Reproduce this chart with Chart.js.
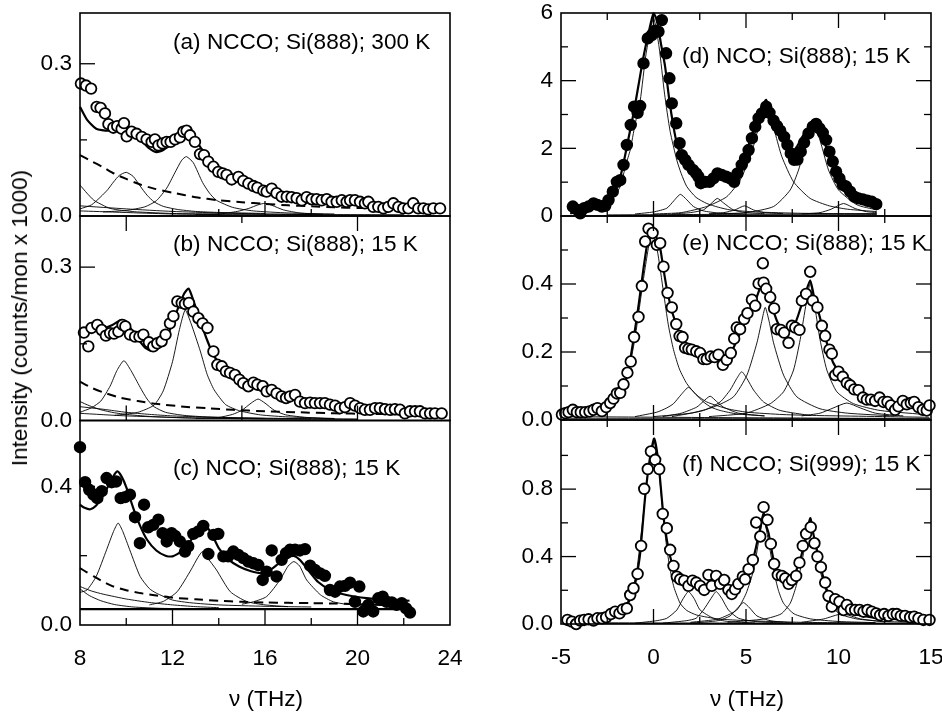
<!DOCTYPE html>
<html>
<head>
<meta charset="utf-8">
<script src="https://cdn.jsdelivr.net/npm/chart.js@4.4.1/dist/chart.umd.min.js"></script>
<style>
  body { margin: 0; background: #fff; }
  #fig { position: relative; width: 942px; height: 712px; overflow: hidden;
         font-family: "Liberation Sans", Arial, Helvetica, sans-serif; color: #000; }
  #fig canvas { position: absolute; left: 0; top: 0; }
  .lbl { position: absolute; font-size: 22.6px; line-height: 22px; white-space: nowrap; }
</style>
</head>
<body>
<div id="fig">
  <canvas id="pa" width="942" height="712"></canvas>
  <canvas id="pb" width="942" height="712"></canvas>
  <canvas id="pc" width="942" height="712"></canvas>
  <canvas id="pd" width="942" height="712"></canvas>
  <canvas id="pe" width="942" height="712"></canvas>
  <canvas id="pf" width="942" height="712"></canvas>

  <div class="lbl" style="left:173px;top:31px">(a) NCCO; Si(888); 300 K</div>
  <div class="lbl" style="left:173px;top:233px">(b) NCCO; Si(888); 15 K</div>
  <div class="lbl" style="left:173px;top:457px">(c) NCO; Si(888); 15 K</div>
  <div class="lbl" style="left:682px;top:45px">(d) NCO; Si(888); 15 K</div>
  <div class="lbl" style="left:682px;top:232px">(e) NCCO; Si(888); 15 K</div>
  <div class="lbl" style="left:682px;top:453px">(f) NCCO; Si(999); 15 K</div>

  <div class="lbl" style="left:266px;top:688px;transform:translateX(-50%)">&nu; (THz)</div>
  <div class="lbl" style="left:747px;top:688px;transform:translateX(-50%)">&nu; (THz)</div>
  <div class="lbl" style="left:20px;top:318px;transform:translate(-50%,-50%) rotate(-90deg)">Intensity (counts/mon x 1000)</div>
</div>

<script>
// ---- panel (a) NCCO, Si(888), 300 K ----
const A_NU = [8.04,8.26,8.48,8.72,8.89,9.08,9.23,9.44,9.61,9.80,9.90,10.02,10.23,10.45,10.67,10.88,11.10,11.24,11.39,11.57,11.75,11.92,12.11,12.32,12.47,12.61,12.76,12.97,13.19,13.36,13.55,13.77,13.98,14.17,14.34,14.56,14.85,15.06,15.28,15.50,15.67,15.93,16.07,16.29,16.50,16.72,16.94,17.15,17.37,17.59,17.80,18.02,18.23,18.45,18.67,18.88,19.10,19.32,19.53,19.68,19.89,20.11,20.32,20.47,20.68,20.90,21.12,21.33,21.55,21.77,21.98,22.20,22.41,22.63,22.85,23.06,23.28,23.57];
const A_INT = [0.261,0.257,0.251,0.215,0.213,0.202,0.181,0.174,0.177,0.172,0.183,0.157,0.166,0.162,0.156,0.151,0.146,0.151,0.139,0.143,0.146,0.146,0.151,0.155,0.166,0.168,0.159,0.146,0.122,0.120,0.107,0.097,0.087,0.084,0.081,0.072,0.077,0.069,0.064,0.059,0.056,0.050,0.048,0.054,0.045,0.038,0.038,0.037,0.035,0.031,0.037,0.033,0.033,0.031,0.033,0.028,0.028,0.031,0.028,0.031,0.031,0.028,0.025,0.028,0.018,0.018,0.015,0.018,0.025,0.018,0.015,0.015,0.025,0.015,0.015,0.013,0.015,0.015];
const A_FIT = [[8,0.215],[8.3,0.19],[8.7,0.172],[9.2,0.168],[9.6,0.172],[9.9,0.175],[10.3,0.165],[10.7,0.147],[11.0,0.133],[11.3,0.126],[11.6,0.130],[12.0,0.145],[12.3,0.162],[12.6,0.172],[12.9,0.160],[13.2,0.136],[13.6,0.111],[14.0,0.093],[14.5,0.078],[15.0,0.068],[15.5,0.060],[16.0,0.053],[16.5,0.046],[17.0,0.040],[18.0,0.032],[19.0,0.027],[20.0,0.024],[21.0,0.021],[22.0,0.019],[23.0,0.017],[23.6,0.016]];
const A_BG = [[8,0.120],[8.5,0.108],[9,0.096],[9.5,0.083],[10,0.073],[10.6,0.062],[11.2,0.054],[12,0.046],[13,0.037],[14,0.031],[15,0.027],[16,0.024],[17,0.021],[18,0.019],[19,0.017],[20,0.016],[21,0.015],[22,0.014],[23,0.013],[23.6,0.013]];
const A_P0 = [[8,0.061],[8.3,0.045],[8.6,0.031],[9,0.021],[9.3,0.015],[9.8,0.011],[10.5,0.008],[12,0.005],[14,0.004],[18,0.003]];
const A_P1 = [[8,0.014],[8.5,0.022],[8.9,0.038],[9.2,0.052],[9.45,0.067],[9.7,0.080],[10.0,0.086],[10.3,0.078],[10.6,0.059],[10.9,0.041],[11.2,0.028],[11.6,0.019],[12.2,0.013],[13,0.009],[14,0.007],[16,0.005]];
const A_P2 = [[9,0.008],[10,0.011],[10.8,0.018],[11.3,0.030],[11.75,0.055],[12.1,0.085],[12.4,0.110],[12.6,0.117],[12.9,0.105],[13.3,0.066],[13.6,0.045],[13.9,0.031],[14.6,0.017],[15.5,0.010],[17,0.006],[19,0.004]];
const A_P3 = [[13,0.003],[14,0.004],[14.8,0.009],[15.3,0.015],[15.7,0.022],[16.0,0.025],[16.3,0.021],[16.8,0.012],[17.5,0.006],[18.5,0.003]];
const A_B1 = [[8,0.020],[10,0.014],[12,0.009],[14,0.006],[16,0.004],[18,0.003],[22,0.002]];
const A_B2 = [[8,0.010],[12,0.004],[16,0.002],[22,0.002]];

// ---- panel (b) NCCO, Si(888), 15 K ----
const B_NU = [8.17,8.36,8.50,8.75,8.94,9.12,9.30,9.47,9.66,9.84,9.96,10.16,10.38,10.57,10.74,10.98,11.17,11.34,11.53,11.70,11.89,12.04,12.21,12.40,12.54,12.71,12.90,13.12,13.30,13.51,13.77,13.94,14.13,14.31,14.49,14.70,14.89,15.06,15.28,15.50,15.67,15.90,16.07,16.29,16.50,16.72,16.91,17.08,17.30,17.51,17.73,17.95,18.16,18.38,18.59,18.81,19.03,19.24,19.46,19.68,19.89,20.11,20.32,20.54,20.76,20.97,21.19,21.41,21.62,21.84,22.05,22.27,22.49,22.70,22.92,23.14,23.35,23.64];
const B_INT = [0.172,0.145,0.181,0.187,0.177,0.166,0.171,0.170,0.174,0.187,0.184,0.168,0.164,0.164,0.168,0.153,0.145,0.151,0.155,0.168,0.190,0.204,0.233,0.230,0.228,0.230,0.213,0.200,0.190,0.181,0.135,0.109,0.106,0.096,0.093,0.089,0.080,0.073,0.067,0.074,0.070,0.067,0.057,0.060,0.053,0.047,0.044,0.047,0.050,0.037,0.034,0.035,0.034,0.034,0.034,0.031,0.029,0.024,0.026,0.034,0.029,0.024,0.021,0.021,0.024,0.024,0.022,0.021,0.022,0.021,0.014,0.018,0.018,0.018,0.014,0.014,0.014,0.014];
const B_FIT = [[8,0.172],[8.5,0.176],[9,0.180],[9.4,0.187],[9.8,0.197],[10.1,0.186],[10.5,0.160],[10.8,0.143],[11.1,0.136],[11.4,0.142],[11.8,0.168],[12.2,0.215],[12.5,0.248],[12.7,0.258],[12.9,0.235],[13.2,0.195],[13.5,0.157],[13.8,0.126],[14.2,0.102],[14.6,0.087],[15.1,0.074],[15.6,0.068],[16.0,0.060],[16.5,0.051],[17,0.044],[18,0.035],[19,0.029],[20,0.025],[21,0.022],[22,0.019],[23,0.017],[23.6,0.016]];
const B_BG = [[8,0.076],[8.5,0.064],[9,0.055],[9.7,0.045],[10.5,0.038],[11.2,0.033],[12.5,0.027],[13.5,0.024],[14.6,0.021],[16,0.018],[17.5,0.016],[19,0.014],[20.5,0.013],[22,0.012],[23.6,0.011]];
const B_P0 = [[8,0.037],[8.4,0.029],[8.9,0.021],[9.5,0.015],[10.2,0.011],[11,0.008],[12.5,0.005],[14,0.004],[18,0.003]];
const B_P1 = [[8,0.016],[8.5,0.025],[8.9,0.038],[9.3,0.067],[9.6,0.098],[9.9,0.117],[10.2,0.098],[10.6,0.065],[10.9,0.042],[11.2,0.027],[11.7,0.016],[12.5,0.010],[13.5,0.007],[16,0.004]];
const B_P2 = [[9.5,0.010],[10.5,0.016],[11.2,0.030],[11.6,0.058],[12.0,0.115],[12.3,0.178],[12.55,0.216],[12.8,0.190],[13.2,0.136],[13.5,0.090],[13.8,0.060],[14.3,0.031],[14.9,0.019],[15.8,0.011],[17,0.007],[19,0.004]];
const B_P3 = [[13,0.004],[14,0.006],[14.6,0.012],[15.0,0.020],[15.4,0.034],[15.7,0.042],[16.0,0.034],[16.4,0.020],[16.9,0.011],[17.8,0.006],[19,0.003]];
const B_B1 = [[8,0.027],[9,0.022],[10,0.016],[11,0.012],[12,0.009],[14,0.006],[17,0.004],[20,0.003]];
const B_B2 = [[8,0.014],[10,0.009],[13,0.005],[16,0.003],[20,0.002]];

// ---- panel (c) NCO, Si(888), 15 K ----
const C_NU = [8.00,8.22,8.40,8.58,8.75,8.94,9.15,9.37,9.56,9.76,9.95,10.16,10.38,10.59,10.77,10.95,11.17,11.39,11.57,11.75,11.96,12.11,12.32,12.54,12.68,12.90,13.12,13.33,13.55,13.77,13.98,14.20,14.41,14.63,14.85,15.06,15.28,15.50,15.71,15.90,16.07,16.29,16.50,16.72,16.91,17.08,17.30,17.51,17.73,17.95,18.16,18.38,18.59,18.81,19.03,19.24,19.46,19.68,19.89,20.08,20.25,20.47,20.68,20.90,21.09,21.26,21.48,21.69,21.91,22.10,22.27];
const C_INT = [0.513,0.412,0.390,0.376,0.366,0.386,0.424,0.412,0.414,0.366,0.369,0.376,0.311,0.236,0.347,0.282,0.289,0.304,0.265,0.241,0.265,0.257,0.241,0.212,0.227,0.263,0.270,0.286,0.205,0.260,0.263,0.198,0.198,0.212,0.202,0.193,0.183,0.178,0.173,0.130,0.154,0.215,0.140,0.188,0.207,0.217,0.217,0.215,0.219,0.171,0.159,0.149,0.142,0.101,0.096,0.111,0.113,0.122,0.067,0.111,0.039,0.058,0.039,0.077,0.082,0.067,0.065,0.058,0.063,0.048,0.036];
const C_FIT = [[8,0.347],[8.2,0.338],[8.45,0.334],[8.7,0.345],[8.95,0.368],[9.2,0.398],[9.45,0.430],[9.62,0.443],[9.8,0.428],[10.0,0.398],[10.3,0.338],[10.6,0.286],[10.9,0.246],[11.3,0.215],[11.7,0.200],[12.0,0.198],[12.4,0.213],[12.8,0.245],[13.1,0.272],[13.4,0.289],[13.7,0.262],[14.0,0.222],[14.4,0.190],[14.9,0.168],[15.4,0.155],[15.8,0.150],[16.2,0.158],[16.6,0.178],[17.0,0.195],[17.25,0.199],[17.5,0.188],[17.9,0.156],[18.3,0.124],[18.8,0.102],[19.3,0.090],[19.8,0.083],[20.5,0.077],[21.2,0.074],[22.25,0.070]];
const C_BG = [[8,0.164],[8.3,0.152],[8.6,0.140],[9,0.125],[9.45,0.111],[10,0.100],[10.6,0.092],[11.3,0.085],[12,0.079],[13,0.074],[14,0.070],[15,0.067],[16,0.065],[17,0.064],[18,0.063],[19,0.062],[20,0.060],[21,0.058],[22.2,0.055]];
const C_CONST = [[8,0.046],[22.3,0.046]];
const C_P1 = [[8,0.094],[8.3,0.101],[8.7,0.140],[9.15,0.217],[9.45,0.270],[9.65,0.294],[9.85,0.270],[10.15,0.217],[10.6,0.140],[11.0,0.105],[11.3,0.092],[12,0.072],[12.8,0.064],[14,0.058],[16,0.054],[18,0.052]];
const C_P2 = [[11,0.058],[11.6,0.068],[12.2,0.096],[12.8,0.159],[13.1,0.195],[13.3,0.212],[13.5,0.195],[13.9,0.159],[14.5,0.096],[15.2,0.068],[16,0.058],[17,0.053]];
const C_P3 = [[15,0.060],[15.5,0.067],[16.07,0.082],[16.65,0.130],[17.0,0.170],[17.25,0.183],[17.5,0.170],[17.8,0.130],[18.4,0.087],[18.95,0.067],[19.5,0.060],[20.5,0.055]];
const C_D1 = [[8,0.111],[8.5,0.098],[9,0.089],[10,0.075],[11,0.065],[12,0.058],[13,0.053],[14,0.050]];
const C_D2 = [[8,0.104],[8.4,0.085],[8.9,0.070],[9.5,0.059],[10.3,0.052],[11.5,0.048],[13,0.047]];

// ---- panel (d) NCO, Si(888), 15 K ----
const D_NU = [-4.36,-4.11,-3.96,-3.75,-3.51,-3.24,-3.03,-2.79,-2.61,-2.43,-2.20,-1.98,-1.80,-1.62,-1.44,-1.23,-1.05,-0.86,-0.72,-0.54,-0.31,-0.09,0.09,0.27,0.45,0.68,0.86,0.99,1.23,1.41,1.53,1.71,1.89,2.13,2.31,2.43,2.56,2.79,3.03,3.24,3.46,3.69,3.93,4.14,4.36,4.54,4.77,4.95,5.14,5.32,5.50,5.68,5.86,6.09,6.27,6.49,6.67,6.85,7.06,7.24,7.42,7.60,7.78,7.96,8.14,8.38,8.61,8.79,8.97,9.15,9.33,9.51,9.69,9.87,10.05,10.23,10.41,10.63,10.85,11.08,11.32,11.57,11.80,12.04];
const D_INT = [0.28,0.18,0.08,0.23,0.28,0.37,0.33,0.28,0.30,0.47,0.72,1.01,1.06,1.51,2.10,2.69,3.23,3.05,3.25,4.51,5.25,5.35,5.48,5.45,5.79,4.81,4.07,3.33,2.74,2.15,1.80,1.66,1.51,1.36,1.26,1.16,0.97,1.01,1.01,1.11,1.26,1.21,1.16,1.11,1.01,1.26,1.51,1.70,1.95,2.30,2.64,2.89,3.03,3.23,3.05,2.82,2.66,2.52,2.34,2.10,1.85,1.66,1.67,1.90,2.17,2.44,2.64,2.72,2.59,2.46,2.25,1.90,1.61,1.31,1.11,0.92,0.87,0.72,0.57,0.52,0.49,0.45,0.42,0.35];
const D_FIT = [[-4.5,0.08],[-3.8,0.17],[-3.06,0.33],[-2.6,0.5],[-2.16,0.72],[-1.85,1.05],[-1.62,1.56],[-1.35,2.3],[-1.08,3.03],[-0.8,3.9],[-0.54,4.71],[-0.27,5.4],[0,5.99],[0.18,5.79],[0.4,5.1],[0.63,4.41],[0.85,3.45],[1.08,2.64],[1.26,2.15],[1.44,1.85],[1.8,1.40],[2.34,1.16],[3.06,1.11],[3.78,1.12],[4.2,1.2],[4.5,1.36],[4.8,1.65],[5.04,1.95],[5.3,2.35],[5.59,2.84],[5.85,3.2],[6.09,3.43],[6.35,3.0],[6.67,2.64],[6.95,2.3],[7.21,2.0],[7.48,1.9],[7.75,2.05],[8.0,2.3],[8.29,2.54],[8.65,2.84],[8.9,2.6],[9.19,2.25],[9.45,1.85],[9.73,1.46],[10.1,1.08],[10.45,0.82],[10.8,0.65],[11.17,0.52],[11.6,0.43],[12.07,0.35]];
const D_P1 = [[-4.5,0.07],[-3.96,0.13],[-3,0.25],[-2.52,0.37],[-2.1,0.6],[-1.8,0.87],[-1.5,1.5],[-1.26,1.95],[-1.0,2.7],[-0.72,3.4],[-0.4,4.8],[0,5.85],[0.3,5.0],[0.6,3.6],[0.9,2.5],[1.26,1.65],[1.5,1.25],[1.8,0.87],[2.3,0.55],[2.88,0.37],[3.5,0.26],[4.14,0.18],[5.5,0.12],[8,0.08],[12.07,0.06]];
const D_P2 = [[0,0.06],[1.5,0.10],[2.88,0.28],[3.96,0.57],[4.68,1.06],[5.23,1.75],[5.59,2.44],[5.9,3.1],[6.09,3.33],[6.3,3.0],[6.58,2.44],[6.94,1.75],[7.57,1.01],[8.47,0.52],[9.5,0.30],[10.5,0.2],[12.07,0.13]];
const D_P3 = [[3,0.06],[5,0.1],[6.49,0.28],[7.39,0.77],[7.84,1.36],[8.2,2.05],[8.5,2.6],[8.65,2.79],[8.8,2.6],[9.1,2.05],[9.46,1.36],[10.0,0.77],[11.0,0.33],[12.07,0.18]];
const D_P4 = [[-1,0.06],[0,0.12],[0.72,0.23],[1.1,0.45],[1.45,0.64],[1.8,0.48],[2.16,0.28],[2.7,0.15],[3.5,0.09],[5,0.06]];
const D_P5 = [[1,0.06],[2,0.1],[2.7,0.18],[3.1,0.36],[3.45,0.52],[3.8,0.38],[4.32,0.18],[5,0.1],[6,0.07]];
const D_P6 = [[3,0.06],[3.8,0.1],[4.4,0.18],[4.92,0.30],[5.4,0.18],[6,0.1],[7,0.07]];
const D_P7 = [[8,0.06],[9.0,0.1],[9.6,0.2],[10.27,0.37],[10.9,0.22],[11.5,0.13],[12.07,0.10]];
const D_B1 = [[-2.5,0.03],[4,0.05],[12.07,0.07]];
const D_B2 = [[-2.5,0.02],[12.07,0.04]];

// ---- panel (e) NCCO, Si(888), 15 K ----
const E_NU = [-4.95,-4.77,-4.59,-4.36,-4.14,-3.93,-3.69,-3.46,-3.24,-3.03,-2.79,-2.56,-2.34,-2.16,-1.98,-1.80,-1.62,-1.41,-1.23,-1.05,-0.81,-0.63,-0.45,-0.27,-0.05,0.18,0.36,0.54,0.76,0.99,1.23,1.41,1.57,1.71,1.89,2.07,2.31,2.52,2.70,2.88,3.10,3.30,3.51,3.75,3.96,4.18,4.36,4.50,4.68,4.90,5.08,5.32,5.50,5.68,5.91,5.95,6.09,6.31,6.52,6.67,6.88,7.06,7.30,7.48,7.66,7.89,8.02,8.25,8.47,8.61,8.86,9.10,9.28,9.51,9.64,9.82,10.00,10.23,10.45,10.63,10.85,11.08,11.32,11.53,11.75,11.98,12.22,12.43,12.65,12.83,13.06,13.24,13.48,13.69,13.91,14.09,14.32,14.56,14.77,14.92];
const E_INT = [0.016,0.020,0.023,0.030,0.023,0.023,0.023,0.025,0.030,0.035,0.026,0.038,0.050,0.063,0.078,0.080,0.105,0.139,0.172,0.244,0.303,0.394,0.525,0.563,0.550,0.515,0.520,0.451,0.374,0.331,0.282,0.247,0.244,0.212,0.209,0.207,0.202,0.197,0.179,0.179,0.187,0.185,0.192,0.162,0.177,0.197,0.239,0.272,0.267,0.297,0.314,0.354,0.336,0.401,0.461,0.404,0.386,0.361,0.328,0.267,0.265,0.257,0.227,0.277,0.272,0.265,0.351,0.371,0.436,0.351,0.331,0.277,0.247,0.207,0.195,0.132,0.142,0.127,0.109,0.102,0.090,0.088,0.066,0.060,0.060,0.056,0.066,0.053,0.053,0.043,0.030,0.040,0.056,0.046,0.050,0.053,0.038,0.030,0.028,0.043];
const E_FIT = [[-4.95,0.013],[-3.42,0.018],[-2.8,0.03],[-2.34,0.045],[-1.9,0.07],[-1.62,0.098],[-1.35,0.15],[-1.08,0.237],[-0.8,0.34],[-0.54,0.446],[-0.3,0.53],[-0.12,0.565],[0.1,0.545],[0.36,0.505],[0.55,0.44],[0.72,0.386],[1.0,0.32],[1.26,0.277],[1.5,0.245],[1.8,0.217],[2.2,0.198],[2.52,0.187],[2.9,0.178],[3.24,0.177],[3.6,0.180],[3.96,0.187],[4.3,0.21],[4.68,0.257],[5.05,0.30],[5.4,0.336],[5.7,0.38],[5.92,0.416],[6.1,0.39],[6.31,0.355],[6.55,0.31],[6.76,0.282],[7.05,0.268],[7.39,0.267],[7.7,0.29],[7.93,0.326],[8.2,0.37],[8.47,0.411],[8.65,0.37],[8.83,0.336],[9.1,0.28],[9.37,0.227],[9.7,0.17],[10.09,0.137],[10.5,0.108],[11.0,0.083],[11.6,0.065],[12.25,0.053],[13.0,0.045],[13.69,0.038],[14.3,0.033],[14.95,0.03]];
const E_P1 = [[-4.95,0.013],[-3.4,0.023],[-2.16,0.053],[-1.44,0.127],[-1.1,0.21],[-0.9,0.277],[-0.5,0.43],[-0.1,0.55],[0.2,0.5],[0.54,0.376],[0.8,0.28],[1.08,0.207],[1.4,0.15],[1.8,0.107],[2.3,0.075],[2.88,0.053],[4,0.033],[5.05,0.023],[7,0.016],[9,0.013],[14.9,0.008]];
const E_P2 = [[-1,0.01],[0.18,0.023],[0.7,0.035],[1.08,0.048],[1.5,0.075],[1.89,0.096],[2.3,0.075],[2.7,0.053],[3.1,0.038],[3.6,0.028],[4.5,0.018],[6,0.012]];
const E_P3 = [[0.5,0.01],[1.5,0.02],[2.34,0.038],[2.7,0.055],[3.06,0.070],[3.4,0.055],[3.78,0.038],[4.6,0.02],[6,0.012]];
const E_P4 = [[1,0.01],[2.7,0.028],[3.6,0.053],[4.14,0.088],[4.5,0.122],[4.77,0.142],[5.05,0.122],[5.41,0.088],[5.95,0.053],[6.85,0.028],[8.5,0.013]];
const E_P5 = [[0,0.01],[2,0.02],[3.24,0.038],[4.32,0.068],[5.05,0.132],[5.59,0.227],[5.85,0.29],[6.04,0.331],[6.25,0.29],[6.49,0.227],[7.03,0.132],[7.75,0.068],[9.0,0.033],[10.5,0.02],[13,0.012]];
const E_P6 = [[3,0.01],[5,0.02],[6.31,0.048],[7.03,0.083],[7.57,0.147],[7.93,0.237],[8.2,0.326],[8.47,0.401],[8.74,0.326],[9.0,0.237],[9.37,0.147],[9.91,0.083],[10.81,0.048],[12.25,0.028],[14.95,0.015]];
const E_P7 = [[8,0.012],[9.0,0.02],[9.7,0.035],[10.45,0.05],[11.2,0.035],[12,0.02],[13.5,0.012]];
const E_B1 = [[-4.95,0.005],[14.95,0.005]];
const E_B2 = [[-4.95,0.010],[14.95,0.003]];

// ---- panel (f) NCCO, Si(999), 15 K ----
const F_NU = [-4.65,-4.41,-4.18,-3.96,-3.75,-3.51,-3.24,-3.03,-2.79,-2.56,-2.31,-2.07,-1.84,-1.66,-1.44,-1.26,-1.08,-0.86,-0.67,-0.50,-0.31,-0.14,0.09,0.31,0.50,0.72,0.90,1.08,1.26,1.44,1.66,1.89,2.11,2.31,2.52,2.74,2.97,3.15,3.39,3.60,3.82,4.05,4.23,4.41,4.59,4.83,4.95,5.14,5.37,5.55,5.77,5.95,6.16,6.34,6.52,6.72,6.94,7.12,7.30,7.48,7.71,7.89,8.07,8.25,8.50,8.70,8.86,9.05,9.28,9.46,9.64,9.82,10.05,10.27,10.45,10.67,10.90,11.14,11.35,11.57,11.80,12.04,12.25,12.47,12.70,12.94,13.15,13.37,13.60,13.87,14.09,14.32,14.59,14.92];
const F_INT = [0.024,0.014,0.000,0.020,0.024,0.028,0.020,0.034,0.034,0.040,0.059,0.073,0.063,0.087,0.093,0.172,0.212,0.297,0.463,0.802,0.919,1.024,0.974,0.919,0.653,0.568,0.440,0.345,0.281,0.265,0.257,0.226,0.257,0.246,0.226,0.202,0.291,0.226,0.285,0.238,0.261,0.202,0.178,0.206,0.238,0.281,0.265,0.325,0.380,0.602,0.519,0.693,0.618,0.475,0.356,0.291,0.285,0.271,0.238,0.261,0.285,0.364,0.463,0.535,0.574,0.479,0.400,0.337,0.246,0.166,0.103,0.147,0.133,0.083,0.113,0.087,0.083,0.083,0.073,0.083,0.073,0.063,0.053,0.059,0.048,0.059,0.059,0.048,0.048,0.040,0.044,0.034,0.024,0.024];
const F_FIT = [[-4.86,0.004],[-3.06,0.024],[-2.3,0.045],[-1.8,0.073],[-1.4,0.12],[-1.08,0.202],[-0.9,0.29],[-0.72,0.42],[-0.45,0.756],[-0.18,0.994],[0.04,1.10],[0.27,0.954],[0.54,0.638],[0.72,0.50],[0.9,0.40],[1.08,0.33],[1.26,0.281],[1.8,0.251],[2.52,0.222],[3.24,0.232],[3.96,0.212],[4.3,0.225],[4.68,0.261],[5.0,0.30],[5.32,0.36],[5.55,0.46],[5.75,0.56],[5.95,0.657],[6.1,0.58],[6.22,0.539],[6.35,0.46],[6.49,0.380],[6.7,0.31],[6.85,0.281],[7.1,0.25],[7.39,0.242],[7.65,0.30],[7.93,0.380],[8.2,0.50],[8.47,0.628],[8.65,0.53],[8.83,0.440],[9.1,0.31],[9.37,0.202],[9.65,0.14],[9.91,0.103],[10.3,0.08],[10.81,0.059],[11.5,0.045],[12.25,0.034],[13.5,0.026],[14.95,0.02]];
const F_P1 = [[-4.86,0.004],[-3,0.015],[-2,0.04],[-1.44,0.123],[-1.1,0.22],[-0.9,0.32],[-0.6,0.6],[-0.3,0.9],[0.04,1.08],[0.3,0.9],[0.54,0.618],[0.72,0.45],[0.9,0.32],[1.1,0.22],[1.44,0.123],[1.8,0.08],[2.34,0.053],[3.5,0.03],[5,0.02],[8,0.01],[12,0.006]];
const F_P2 = [[-1,0.005],[0.2,0.02],[0.72,0.034],[1.26,0.083],[1.6,0.15],[1.89,0.192],[2.2,0.15],[2.52,0.083],[3.24,0.034],[4,0.015],[5.5,0.006]];
const F_P3 = [[0.5,0.005],[1.8,0.02],[2.3,0.034],[2.7,0.083],[3.1,0.15],[3.39,0.192],[3.7,0.15],[4.05,0.083],[4.6,0.034],[5.5,0.015],[7,0.006]];
const F_P4 = [[2,0.005],[3.5,0.02],[4.14,0.048],[4.55,0.095],[4.86,0.127],[5.2,0.095],[5.59,0.048],[6.3,0.02],[7.5,0.006]];
const F_P5 = [[2,0.01],[3.5,0.03],[4.5,0.083],[5.0,0.18],[5.41,0.32],[5.7,0.5],[5.95,0.63],[6.2,0.5],[6.49,0.32],[6.75,0.2],[7.03,0.123],[7.6,0.06],[8.5,0.03],[10,0.015],[12,0.008]];
const F_P6 = [[4,0.01],[6,0.03],[6.9,0.06],[7.39,0.123],[7.7,0.22],[7.93,0.32],[8.2,0.47],[8.47,0.598],[8.75,0.47],[9.0,0.32],[9.25,0.22],[9.55,0.123],[10.05,0.06],[11,0.03],[12.5,0.015],[14.95,0.008]];
const F_P7 = [[8,0.01],[9.2,0.03],[10.2,0.06],[11.2,0.03],[12.5,0.012]];
const F_B1 = [[-4.86,0.002],[14.95,0.006]];
const F_B2 = [[-4.86,0.008],[14.95,0.002]];

// tick labels and tick marks
const X_LABELS_L = [8, 12, 16, 20, 24];
const X_LABELS_R = [-5, 0, 5, 10, 15];
const X_MAJOR_R = [0, 5, 10];
const X_MINOR_R = [-2.5, 2.5, 7.5, 12.5];

const FONT = { family: "'Liberation Sans', Arial, Helvetica, sans-serif", size: 22.6 };
const YW = 60;   // reserved width for the y tick labels
const XH = 40;   // reserved height for the x tick labels

// frame around each panel and the inward tick marks on its sides
const frameTicks = {
  id: "frameTicks",
  afterDatasetsDraw(chart, args, opts) {
    const { ctx, chartArea: a, scales: { x, y } } = chart;
    ctx.save();
    ctx.strokeStyle = "#000";
    ctx.lineWidth = 1.3;
    const mark = (vals, len, side) => (vals || []).forEach((v) => {
      ctx.beginPath();
      if (side === "left" || side === "right") {
        const py = y.getPixelForValue(v);
        const x0 = side === "left" ? a.left : a.right;
        ctx.moveTo(x0, py);
        ctx.lineTo(side === "left" ? x0 + len : x0 - len, py);
      } else {
        const px = x.getPixelForValue(v);
        const y0 = side === "top" ? a.top : a.bottom;
        ctx.moveTo(px, y0);
        ctx.lineTo(px, side === "top" ? y0 + len : y0 - len);
      }
      ctx.stroke();
    });
    ["left", "right", "top", "bottom"].forEach((side) => {
      const t = opts[side];
      if (!t) return;
      mark(t.major, 15, side);
      mark(t.minor, 7, side);
    });
    ctx.lineWidth = 1.6;
    ctx.strokeRect(a.left, a.top, a.right - a.left, a.bottom - a.top);
    ctx.restore();
  },
};

const points = (nu, val, filled) => ({
  data: nu.map((x, i) => ({ x, y: val[i] })),
  showLine: false,
  pointRadius: 5.3,
  pointBorderWidth: 1.8,
  pointBorderColor: "#000",
  pointBackgroundColor: filled ? "#000" : "#fff",
  clip: false,
});

const curve = (pairs, kind) => ({
  data: pairs.map(([x, y]) => ({ x, y })),
  showLine: true,
  pointRadius: 0,
  borderColor: "#000",
  borderWidth: kind === "fit" ? 2.2 : kind === "dash" ? 2 : 0.9,
  borderDash: kind === "dash" ? [9, 6] : [],
  tension: 0.2,
  clip: false,
});

function panel(id, p) {
  const hasX = Boolean(p.xLabels);
  new Chart(document.getElementById(id), {
    type: "scatter",
    data: { datasets: p.datasets },
    options: {
      responsive: false,
      animation: false,
      events: [],
      layout: {
        padding: {
          left: p.box[0] - YW,
          top: p.box[1],
          right: 942 - p.box[2],
          bottom: 712 - p.box[3] - (hasX ? XH : 0),
        },
      },
      plugins: {
        legend: { display: false },
        tooltip: { enabled: false },
        frameTicks: p.ticks,
      },
      scales: {
        x: {
          type: "linear",
          min: p.x[0],
          max: p.x[1],
          display: hasX,
          grid: { display: false, drawTicks: false },
          border: { display: false },
          ticks: { font: FONT, color: "#000", padding: 20, autoSkip: false, maxRotation: 0,
                   callback: (v) => String(v) },
          afterBuildTicks: (s) => { s.ticks = (p.xLabels || []).map((value) => ({ value })); },
          afterFit: (s) => { s.height = hasX ? XH : 0; s.paddingLeft = 0; s.paddingRight = 0; },
        },
        y: {
          type: "linear",
          min: p.y[0],
          max: p.y[1],
          grid: { display: false, drawTicks: false },
          border: { display: false },
          ticks: { font: FONT, color: "#000", padding: 8, callback: (v) => v.toFixed(p.dec) },
          afterBuildTicks: (s) => { s.ticks = p.yLabels.map((value) => ({ value })); },
          afterFit: (s) => { s.width = YW; s.paddingTop = 0; s.paddingBottom = 0; },
        },
      },
    },
    plugins: [frameTicks],
  });
}

panel("pa", {
  box: [80, 13, 450, 216], x: [8, 24], y: [0, 0.4], yLabels: [0, 0.3], dec: 1,
  ticks: { left: { major: [0.3], minor: [0.15] }, bottom: { major: [16], minor: [12, 14, 18] } },
  datasets: [
    points(A_NU, A_INT, false),
    curve(A_FIT, "fit"), curve(A_BG, "dash"),
    curve(A_P0), curve(A_P1), curve(A_P2), curve(A_P3), curve(A_B1), curve(A_B2),
  ],
});

panel("pb", {
  box: [80, 216, 450, 420.5], x: [8, 24], y: [0, 0.4], yLabels: [0, 0.3], dec: 1,
  ticks: { left: { major: [0.3], minor: [0.15] }, top: { major: [10, 20], minor: [15] },
           bottom: { major: [10, 15, 20] } },
  datasets: [
    points(B_NU, B_INT, false),
    curve(B_FIT, "fit"), curve(B_BG, "dash"),
    curve(B_P0), curve(B_P1), curve(B_P2), curve(B_P3), curve(B_B1), curve(B_B2),
  ],
});

panel("pc", {
  box: [80, 420.5, 450, 625], x: [8, 24], y: [0, 0.59], yLabels: [0, 0.4], dec: 1,
  xLabels: X_LABELS_L,
  ticks: { left: { major: [0.4], minor: [0.2] }, bottom: { major: [12, 16, 20], minor: [10, 14, 18, 22] } },
  datasets: [
    points(C_NU, C_INT, true),
    curve(C_FIT, "fit"), curve(C_BG, "dash"), curve(C_CONST, "fit"),
    curve(C_P1), curve(C_P2), curve(C_P3), curve(C_D1), curve(C_D2),
  ],
});

panel("pd", {
  box: [561, 13, 931, 216], x: [-5, 15], y: [0, 6], yLabels: [0, 2, 4, 6], dec: 0,
  ticks: {
    left: { major: [2, 4], minor: [1, 3, 5] }, right: { major: [2, 4], minor: [1, 3, 5] },
    top: { major: X_MAJOR_R, minor: X_MINOR_R }, bottom: { major: X_MAJOR_R, minor: X_MINOR_R },
  },
  datasets: [
    points(D_NU, D_INT, true),
    curve(D_FIT, "fit"),
    curve(D_P1), curve(D_P2), curve(D_P3), curve(D_P4), curve(D_P5), curve(D_P6), curve(D_P7),
    curve(D_B1), curve(D_B2),
  ],
});

panel("pe", {
  box: [561, 216, 931, 420], x: [-5, 15], y: [0, 0.6], yLabels: [0, 0.2, 0.4], dec: 1,
  ticks: {
    left: { major: [0.2, 0.4], minor: [0.1, 0.3, 0.5] }, right: { major: [0.2, 0.4], minor: [0.1, 0.3, 0.5] },
    top: { major: X_MAJOR_R, minor: X_MINOR_R }, bottom: { major: X_MAJOR_R, minor: X_MINOR_R },
  },
  datasets: [
    points(E_NU, E_INT, false),
    curve(E_FIT, "fit"),
    curve(E_P1), curve(E_P2), curve(E_P3), curve(E_P4), curve(E_P5), curve(E_P6), curve(E_P7),
    curve(E_B1), curve(E_B2),
  ],
});

panel("pf", {
  box: [561, 420, 931, 624], x: [-5, 15], y: [0, 1.21], yLabels: [0, 0.4, 0.8], dec: 1,
  xLabels: X_LABELS_R,
  ticks: {
    left: { major: [0.4, 0.8], minor: [0.2, 0.6, 1.0] }, right: { major: [0.4, 0.8], minor: [0.2, 0.6, 1.0] },
    top: { major: X_MAJOR_R, minor: X_MINOR_R }, bottom: { major: X_MAJOR_R, minor: X_MINOR_R },
  },
  datasets: [
    points(F_NU, F_INT, false),
    curve(F_FIT, "fit"),
    curve(F_P1), curve(F_P2), curve(F_P3), curve(F_P4), curve(F_P5), curve(F_P6), curve(F_P7),
    curve(F_B1), curve(F_B2),
  ],
});
</script>
</body>
</html>
